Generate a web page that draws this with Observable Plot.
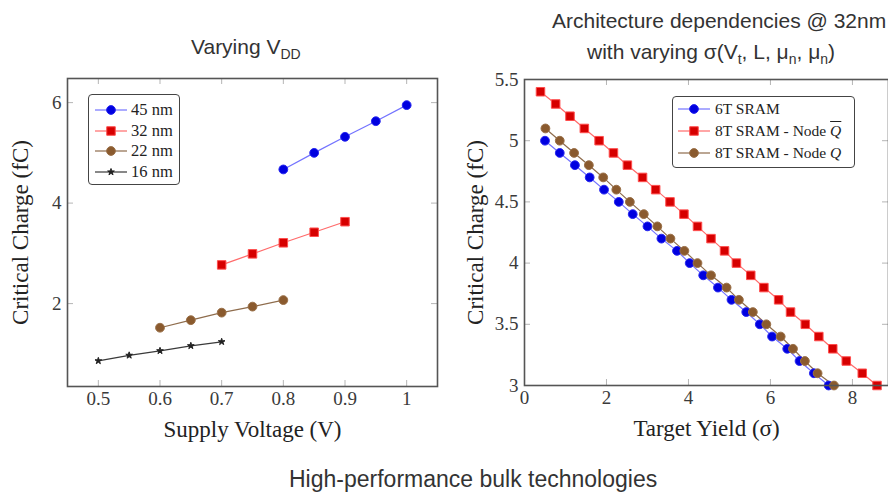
<!DOCTYPE html>
<html>
<head>
<meta charset="utf-8">
<script src="https://cdn.jsdelivr.net/npm/d3@7"></script>
<script src="https://cdn.jsdelivr.net/npm/@observablehq/plot@0.6"></script>
<style>
  html, body { margin: 0; padding: 0; background: #fff; }
  #root { position: relative; width: 888px; height: 494px; overflow: hidden; font-family: "Liberation Sans", Arial, sans-serif; color: #333; }
  .panel { position: absolute; top: 0; }
  .title { position: absolute; white-space: nowrap; font-size: 21px; line-height: 24px; color: #333; }
  .title sub { font-size: 14px; vertical-align: -5px; line-height: 0; }
  .legend { position: absolute; box-sizing: border-box; border: 1.2px solid #444; border-radius: 4px; background: #fff; font-family: "Liberation Serif", "Times New Roman", serif; color: #222; }
  .legend .row { position: absolute; left: 0; white-space: nowrap; display: flex; align-items: center; }
  .legend svg { display: block; overflow: visible; }
  .ov { text-decoration: overline; font-style: italic; }
  .it { font-style: italic; }
</style>
</head>
<body>
<div id="root"></div>
<script>
// ---------- Data: left panel (Varying VDD) ----------
const vdd45 = [0.8, 0.85, 0.9, 0.95, 1.0];
const qc45  = [4.67, 5.0, 5.32, 5.63, 5.95];
const vdd32 = [0.7, 0.75, 0.8, 0.85, 0.9];
const qc32  = [2.77, 2.99, 3.21, 3.42, 3.63];
const vdd22 = [0.6, 0.65, 0.7, 0.75, 0.8];
const qc22  = [1.52, 1.67, 1.82, 1.94, 2.07];
const vdd16 = [0.5, 0.55, 0.6, 0.65, 0.7];
const qc16  = [0.86, 0.97, 1.06, 1.16, 1.24];
const leftNames = ["45 nm", "32 nm", "22 nm", "16 nm"];
const leftXTicks = [0.5, 0.6, 0.7, 0.8, 0.9, 1];
const leftYTicks = [2, 4, 6];

// ---------- Data: right panel (Architecture dependencies @ 32nm) ----------
const yield6T = [0.50, 0.86, 1.23, 1.59, 1.94, 2.30, 2.64, 3.00, 3.34, 3.72, 4.03, 4.36, 4.72, 5.05, 5.41, 5.74, 6.04, 6.41, 6.71, 7.06, 7.42];
const qc6T    = [5.0, 4.9, 4.8, 4.7, 4.6, 4.5, 4.4, 4.3, 4.2, 4.1, 4.0, 3.9, 3.8, 3.7, 3.6, 3.5, 3.4, 3.3, 3.2, 3.1, 3.0];
const yield8TQbar = [0.39, 0.76, 1.11, 1.46, 1.82, 2.17, 2.51, 2.88, 3.20, 3.55, 3.89, 4.22, 4.55, 4.88, 5.17, 5.52, 5.84, 6.20, 6.49, 6.85, 7.18, 7.52, 7.85, 8.24, 8.60];
const qc8TQbar    = [5.4, 5.3, 5.2, 5.1, 5.0, 4.9, 4.8, 4.7, 4.6, 4.5, 4.4, 4.3, 4.2, 4.1, 4.0, 3.9, 3.8, 3.7, 3.6, 3.5, 3.4, 3.3, 3.2, 3.1, 3.0];
const yield8TQ = [0.51, 0.86, 1.21, 1.57, 1.92, 2.24, 2.57, 2.91, 3.24, 3.56, 3.90, 4.22, 4.55, 4.93, 5.23, 5.57, 5.90, 6.25, 6.55, 6.84, 7.15, 7.55];
const qc8TQ    = [5.1, 5.0, 4.9, 4.8, 4.7, 4.6, 4.5, 4.4, 4.3, 4.2, 4.1, 4.0, 3.9, 3.8, 3.7, 3.6, 3.5, 3.4, 3.3, 3.2, 3.1, 3.0];
const rightNames = ["6T SRAM", "8T SRAM - Node Q̄", "8T SRAM - Node Q"];
const rightXTicks = [0, 2, 4, 6, 8];
const rightYTicks = [3, 3.5, 4, 4.5, 5, 5.5];

// ---------- Styles ----------
const BLUE  = {line: "#7373ff", fill: "#0000e0", stroke: "#2626f0", symbol: "circle", r: 4.4};
const RED   = {line: "#ff6b6b", fill: "#d60000", stroke: "#ff4d4d", symbol: "square", r: 4.8};
const BROWN = {line: "#8e6c4c", fill: "#8a5a2e", stroke: "#9a7048", symbol: "circle", r: 4.4};
const BLACK = {line: "#3a3a3a", fill: "#222", stroke: "#222", symbol: "star", r: 2.1};

const leftSeries = [
  {name: leftNames[0], x: vdd45, y: qc45, st: BLUE},
  {name: leftNames[1], x: vdd32, y: qc32, st: RED},
  {name: leftNames[2], x: vdd22, y: qc22, st: BROWN},
  {name: leftNames[3], x: vdd16, y: qc16, st: BLACK}
];
const rightSeries = [
  {name: rightNames[0], x: yield6T, y: qc6T, st: BLUE},
  {name: rightNames[1], x: yield8TQbar, y: qc8TQbar, st: RED},
  {name: rightNames[2], x: yield8TQ, y: qc8TQ, st: BROWN}
];
const rows = s => s.x.map((x, i) => ({series: s.name, x, y: s.y[i]}));

const SERIF = '"Liberation Serif", "Times New Roman", serif';
const fmt = d3.format("~g");

function panel({series, xDomain, yDomain, xTicks, yTicks, xLabel, yLabel, width, height, mL, mR, mT, mB, yLabelDx, xLabelDy}) {
  const iw = width - mL - mR, ih = height - mT - mB;
  const tickLen = 6;
  const marks = [
    Plot.tickX(xTicks, {x: d => d, insetTop: ih - tickLen, stroke: "#b5b5b5", strokeWidth: 1}),
    Plot.tickX(xTicks, {x: d => d, insetBottom: ih - tickLen, stroke: "#b5b5b5", strokeWidth: 1}),
    Plot.tickY(yTicks, {y: d => d, insetLeft: iw - tickLen, stroke: "#b5b5b5", strokeWidth: 1}),
    Plot.tickY(yTicks, {y: d => d, insetRight: iw - tickLen, stroke: "#b5b5b5", strokeWidth: 1}),
    Plot.axisX({ticks: xTicks, tickFormat: fmt, tickSize: 0, tickPadding: 5, label: null, fontSize: 19, fill: "#3a3a3a"}),
    Plot.axisY({ticks: yTicks, tickFormat: fmt, tickSize: 0, tickPadding: 6, label: null, fontSize: 19, fill: "#3a3a3a"}),
    Plot.text([xLabel], {text: d => d, frameAnchor: "bottom", textAnchor: "middle", dy: xLabelDy, lineAnchor: "middle", fontSize: 23, fill: "#222"}),
    Plot.text([yLabel], {text: d => d, frameAnchor: "left", textAnchor: "middle", dx: yLabelDx, rotate: -90, lineAnchor: "middle", fontSize: 23, fill: "#222"})
  ];
  for (const s of series) {
    marks.push(Plot.line(rows(s), {x: "x", y: "y", stroke: s.st.line, strokeWidth: 1.2}));
  }
  for (const s of series) {
    marks.push(Plot.dot(rows(s), {x: "x", y: "y", symbol: () => s.st.symbol, r: s.st.r, fill: s.st.fill, stroke: s.st.stroke, strokeWidth: 1}));
  }
  marks.push(Plot.frame({stroke: "#555", strokeWidth: 1.6}));
  return Plot.plot({
    width, height,
    marginLeft: mL, marginRight: mR, marginTop: mT, marginBottom: mB,
    style: {fontFamily: SERIF, fontSize: "19px", color: "#333", background: "transparent", overflow: "visible"},
    x: {domain: xDomain},
    y: {domain: yDomain},
    symbol: {type: "identity"},
    marks
  });
}

const root = document.getElementById("root");

const left = panel({
  series: leftSeries, xDomain: [0.45, 1.05], yDomain: [0.35, 6.48],
  xTicks: leftXTicks, yTicks: leftYTicks,
  xLabel: "Supply Voltage (V)", yLabel: "Critical Charge (fC)",
  width: 444, height: 450, mL: 67, mR: 7, mT: 78, mB: 64, yLabelDx: -47, xLabelDy: 43
});
left.classList.add("panel");
left.style.left = "0px";
root.appendChild(left);

const right = panel({
  series: rightSeries, xDomain: [0, 8.88], yDomain: [3, 5.5],
  xTicks: rightXTicks, yTicks: rightYTicks,
  xLabel: "Target Yield (σ)", yLabel: "Critical Charge (fC)",
  width: 444, height: 450, mL: 80, mR: 0, mT: 79, mB: 65, yLabelDx: -49, xLabelDy: 43
});
right.classList.add("panel");
right.style.left = "444px";
root.appendChild(right);

// ---------- Titles ----------
function addTitle(html, left, top, size) {
  const d = document.createElement("div");
  d.className = "title";
  d.innerHTML = html;
  d.style.left = left + "px";
  d.style.top = top + "px";
  if (size) d.style.fontSize = size + "px";
  root.appendChild(d);
}
addTitle("Varying V<sub>DD</sub>", 191, 35);
addTitle("Architecture dependencies @ 32nm", 552, 9);
addTitle("with varying σ(V<sub>t</sub>, L, μ<sub>n</sub>, μ<sub>n</sub>)", 587, 40);
addTitle("High-performance bulk technologies", 289, 467, 23);

// ---------- Legends ----------
function legend(series, box, labels) {
  const div = document.createElement("div");
  div.className = "legend";
  Object.assign(div.style, {left: box.x + "px", top: box.y + "px", width: box.w + "px", height: box.h + "px", fontSize: box.fs + "px"});
  series.forEach((s, i) => {
    const row = document.createElement("div");
    row.className = "row";
    row.style.top = (box.rowTop + i * box.rowGap - 10) + "px";
    row.style.height = "20px";
    row.style.left = box.lineX0 + "px";
    const sw = box.lineX1 - box.lineX0;
    const svg = d3.create("svg").attr("width", sw).attr("height", 20);
    svg.append("line").attr("x1", 0).attr("x2", sw).attr("y1", 10).attr("y2", 10)
      .attr("stroke", s.st.line).attr("stroke-width", 1.2);
    const sym = {circle: d3.symbolCircle, square: d3.symbolSquare, star: d3.symbolStar}[s.st.symbol];
    svg.append("path").attr("transform", `translate(${sw / 2},10)`)
      .attr("d", d3.symbol(sym, Math.PI * s.st.r * s.st.r)())
      .attr("fill", s.st.fill).attr("stroke", s.st.stroke).attr("stroke-width", 1);
    row.appendChild(svg.node());
    const t = document.createElement("span");
    t.style.marginLeft = box.textGap + "px";
    t.innerHTML = labels[i];
    row.appendChild(t);
    div.appendChild(row);
  });
  root.appendChild(div);
}
legend(leftSeries, {x: 88, y: 94, w: 92, h: 91, fs: 16.5, rowTop: 15, rowGap: 20.7, lineX0: 6, lineX1: 38, textGap: 4},
  leftNames);
legend(rightSeries, {x: 672, y: 96, w: 183, h: 72, fs: 15.5, rowTop: 12, rowGap: 22, lineX0: 5, lineX1: 37, textGap: 5},
  ["6T SRAM", '8T SRAM - Node <span class="ov">Q</span>', '8T SRAM - Node <span class="it">Q</span>']);
</script>
</body>
</html>
